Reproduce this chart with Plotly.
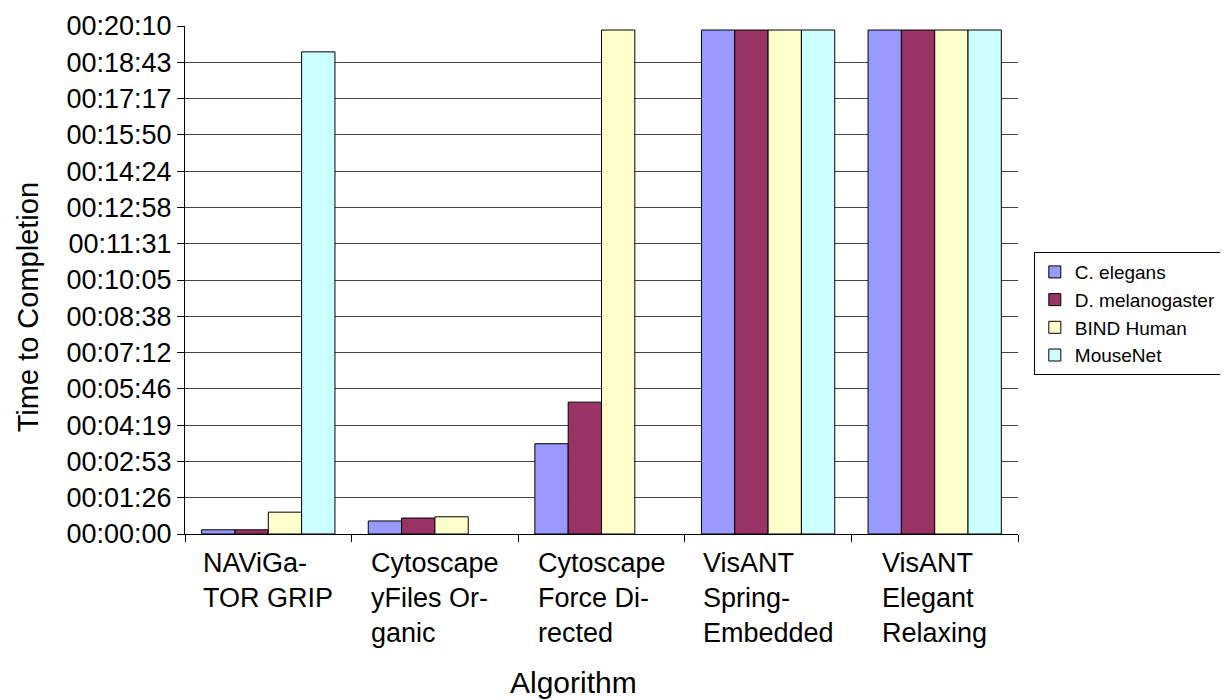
import plotly.graph_objects as go

categories = ["NAViGa-<br>TOR GRIP", "Cytoscape<br>yFiles Or-<br>ganic", "Cytoscape<br>Force Di-<br>rected",
              "VisANT<br>Spring-<br>Embedded", "VisANT<br>Elegant<br>Relaxing"]
cat_keys = ["NAViGaTOR GRIP", "Cytoscape yFiles Organic", "Cytoscape Force Directed",
            "VisANT Spring-Embedded", "VisANT Elegant Relaxing"]

# seconds to completion
c_elegans = [10, 31, 215, 1200, 1200]
d_melanogaster = [10, 38, 314, 1200, 1200]
bind_human = [52, 41, 1200, 1200, 1200]
mousenet = [1148, None, None, 1200, 1200]

series_names = ["C. elegans", "D. melanogaster", "BIND Human", "MouseNet"]
series_values = [c_elegans, d_melanogaster, bind_human, mousenet]
series_colors = ["#9999FF", "#993366", "#FFFFCC", "#CCFFFF"]

tick_values = [0, 86.4, 172.8, 259.2, 345.6, 432, 518.4, 604.8, 691.2, 777.6, 864, 950.4, 1036.8, 1123.2, 1209.6]
tick_labels = ["00:00:00", "00:01:26", "00:02:53", "00:04:19", "00:05:46", "00:07:12", "00:08:38",
               "00:10:05", "00:11:31", "00:12:58", "00:14:24", "00:15:50", "00:17:17", "00:18:43", "00:20:10"]

FONT = "Liberation Sans, Arial, sans-serif"

fig = go.Figure()
for name, vals, col in zip(series_names, series_values, series_colors):
    fig.add_trace(go.Bar(x=cat_keys, y=vals, name=name,
                         marker=dict(color=col, line=dict(color="black", width=1))))

annotations = []
for key, lab in zip(cat_keys, categories):
    annotations.append(dict(x=key, xref="x", y=0, yref="paper", text=lab, showarrow=False,
                            xanchor="center", yanchor="top", align="left", yshift=-12,
                            font=dict(family=FONT, size=27, color="black")))
annotations.append(dict(x=0.466, xref="paper", y=-0.293, yref="paper", text="Algorithm",
                        showarrow=False, xanchor="center", yanchor="middle",
                        font=dict(family=FONT, size=30, color="black")))
annotations.append(dict(x=-0.188, xref="paper", y=0.447, yref="paper", text="Time to Completion",
                        showarrow=False, xanchor="center", yanchor="middle", textangle=-90,
                        font=dict(family=FONT, size=29, color="black")))

fig.update_layout(
    width=1228, height=700,
    margin=dict(l=177, r=218, t=18, b=174, autoexpand=False),
    paper_bgcolor="white", plot_bgcolor="white",
    barmode="group", bargap=0.2, bargroupgap=0,
    font=dict(family=FONT, color="black"),
    showlegend=True,
    legend=dict(x=1.019, xanchor="left", y=0.555, yanchor="top",
                bordercolor="black", borderwidth=1, bgcolor="white",
                font=dict(family=FONT, size=19, color="black"),
                tracegroupgap=0),
    annotations=annotations,
    xaxis=dict(showticklabels=False, tickson="boundaries", ticks="outside", ticklen=7,
               tickcolor="black", showline=True, linecolor="black", linewidth=1,
               showgrid=False, zeroline=False),
    yaxis=dict(range=[0, 1209.6], tickvals=tick_values, ticktext=tick_labels,
               ticks="outside", ticklen=7, tickcolor="black",
               showline=True, linecolor="black", linewidth=1,
               showgrid=True, gridcolor="#444444", gridwidth=1, zeroline=False,
               tickfont=dict(family=FONT, size=27, color="black")),
)

fig.write_html("out.html")
